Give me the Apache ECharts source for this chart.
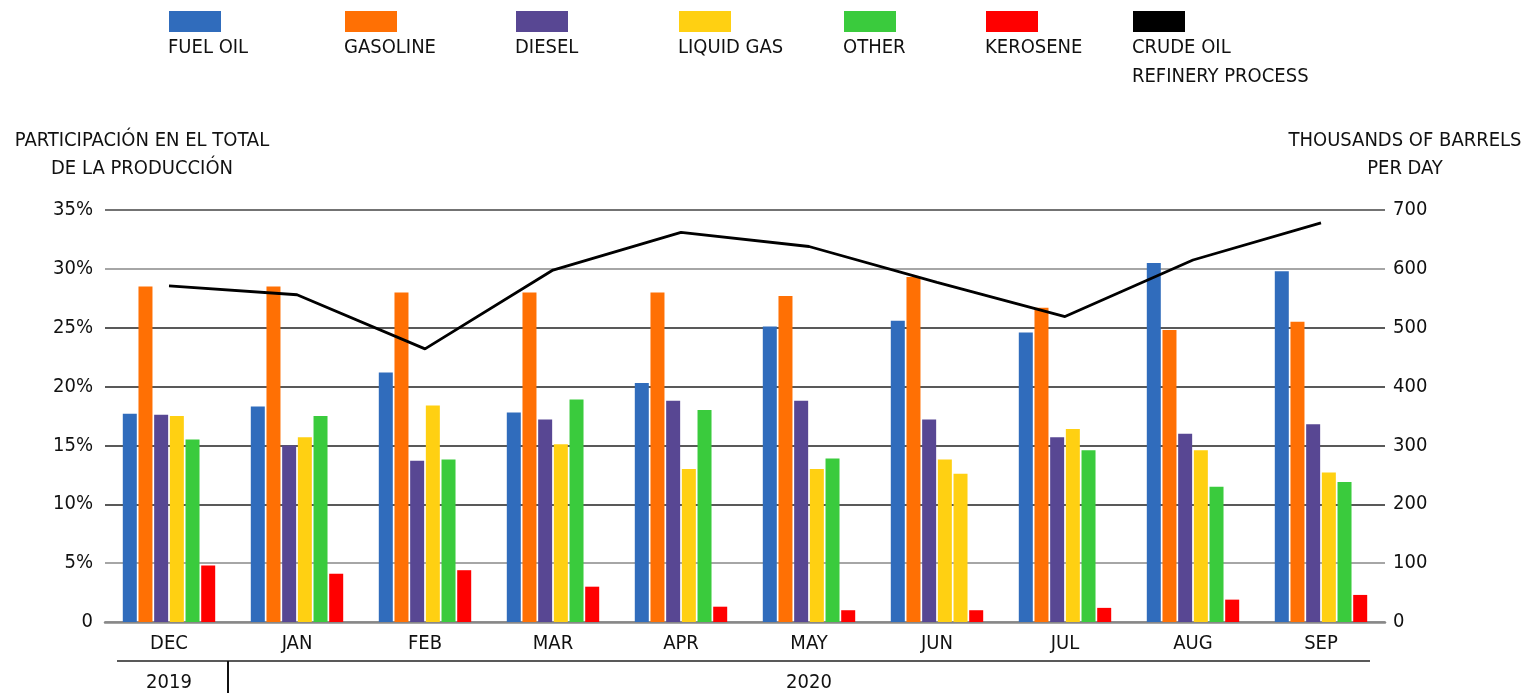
<!DOCTYPE html>
<html>
<head>
<meta charset="utf-8">
<script src="https://cdn.jsdelivr.net/npm/echarts@6/dist/echarts.min.js"></script>
<style>
html,body{margin:0;padding:0;background:#fff;}
#chart{width:1528px;height:693px;}
</style>
</head>
<body>
<div id="chart"></div>
<script>
const months = ['DEC','JAN','FEB','MAR','APR','MAY','JUN','JUL','AUG','SEP'];
const yearLabels = ['2019','','','','','2020','','','',''];
const fuelOil   = [17.7, 18.3, 21.2, 17.8, 20.3, 25.1, 25.6, 24.6, 30.5, 29.8];
const gasoline  = [28.5, 28.5, 28.0, 28.0, 28.0, 27.7, 29.3, 26.7, 24.8, 25.5];
const diesel    = [17.6, 15.0, 13.7, 17.2, 18.8, 18.8, 17.2, 15.7, 16.0, 16.8];
const liquidGas = [17.5, 15.7, 18.4, 15.1, 13.0, 13.0, 13.8, 16.4, 14.6, 12.7];
const other     = [15.5, 17.5, 13.8, 18.9, 18.0, 13.9, 12.6, 14.6, 11.5, 11.9];
const kerosene  = [4.8, 4.1, 4.4, 3.0, 1.3, 1.0, 1.0, 1.2, 1.9, 2.3];
const crudeOil  = [571, 556, 464, 598, 662, 638, 577, 519, 615, 678];
const leftTicks = ['0','5%','10%','15%','20%','25%','30%','35%'];
const rightTicks = ['0','100','200','300','400','500','600','700'];

const barSeries = [
  {name:'FUEL OIL', data:fuelOil, color:'#306CBC'},
  {name:'GASOLINE', data:gasoline, color:'#FF7004'},
  {name:'DIESEL', data:diesel, color:'#584793'},
  {name:'LIQUID GAS', data:liquidGas, color:'#FFD012'},
  {name:'OTHER', data:other, color:'#3ACB3D'},
  {name:'KEROSENE', data:kerosene, color:'#FF0000'}
];
const lineSeries = {name:'CRUDE OIL\nREFINERY PROCESS', data:crudeOil, color:'#000000'};

const FONT = '"DejaVu Sans Condensed","Open Sans",sans-serif';
const FS = 20;
const TXT = '#111';

const chart = echarts.init(document.getElementById('chart'), null, {renderer:'canvas'});

const series = barSeries.map(s => ({
  name: s.name,
  type: 'bar',
  xAxisIndex: 0,
  yAxisIndex: 0,
  barWidth: 14,
  barGap: '12%',
  itemStyle: {color: s.color},
  data: s.data.map((v, i) => (s.name === 'OTHER' && months[i] === 'JUN') ? {value: v, itemStyle: {color: '#FFD012'}} : v),
  emphasis: {disabled: true}
}));
series.push({
  name: lineSeries.name,
  type: 'line',
  xAxisIndex: 0,
  yAxisIndex: 1,
  data: lineSeries.data,
  symbol: 'none',
  lineStyle: {color: lineSeries.color, width: 2.8},
  itemStyle: {color: lineSeries.color},
  z: 5
});

// legend drawn as graphic (icon above text)
const legendX = [169, 345, 516, 679, 844, 986, 1133];
const legendItems = barSeries.map(s => ({name: s.name, color: s.color})).concat([{name: lineSeries.name, color: lineSeries.color}]);
const graphics = [];
legendItems.forEach((it, i) => {
  graphics.push({type:'rect', left: legendX[i], top: 11, shape:{width:52, height:21}, style:{fill: it.color}, silent:true});
  graphics.push({type:'text', x: legendX[i] - 1, y: 33, style:{text: it.name, font: FS + 'px ' + FONT, fill: TXT, lineHeight: 29}, silent:true});
});
graphics.push({type:'text', x: 142, y: 127, style:{text:'PARTICIPACIÓN EN EL TOTAL\nDE LA PRODUCCIÓN', font: FS + 'px ' + FONT, fill: TXT, align:'center', lineHeight: 28}, silent:true});
graphics.push({type:'text', x: 1405, y: 127, style:{text:'THOUSANDS OF BARRELS\nPER DAY', font: FS + 'px ' + FONT, fill: TXT, align:'center', lineHeight: 28}, silent:true});

const option = {
  animation: false,
  backgroundColor: '#fff',
  grid: {left: 105, width: 1280, top: 210, bottom: 71, containLabel: false},
  graphic: graphics,
  xAxis: [
    {
      type: 'category',
      data: months,
      position: 'bottom',
      axisLine: {lineStyle: {color: '#888', width: 2.5}},
      axisTick: {show: false},
      axisLabel: {color: TXT, fontSize: FS, fontFamily: FONT, margin: 12}
    },
    {
      type: 'category',
      data: yearLabels,
      position: 'bottom',
      offset: 39,
      axisLine: {show: false},
      axisTick: {show: false},
      axisLabel: {color: TXT, fontSize: FS, fontFamily: FONT, margin: 12, interval: 0}
    }
  ],
  yAxis: [
    {
      type: 'value',
      min: 0, max: 35, interval: 5,
      axisLine: {show: false},
      axisTick: {show: false},
      axisLabel: {color: TXT, fontSize: FS, fontFamily: FONT, margin: 12, formatter: (v) => leftTicks[Math.round(v / 5)]},
      splitLine: {show: true, lineStyle: {color: ['#888', '#888', '#222', '#222', '#222', '#222', '#888', '#444'], width: 1.5}}
    },
    {
      type: 'value',
      min: 0, max: 700, interval: 100,
      position: 'right',
      axisLine: {show: false},
      axisTick: {show: false},
      axisLabel: {color: TXT, fontSize: FS, fontFamily: FONT, margin: 8, formatter: (v) => rightTicks[Math.round(v / 100)]},
      splitLine: {show: false}
    }
  ],
  series: series
};
chart.setOption(option);

// year band lines positioned from the category scale
const xDec = chart.convertToPixel({xAxisIndex: 0}, 'DEC');
const xJan = chart.convertToPixel({xAxisIndex: 0}, 'JAN');
const xSep = chart.convertToPixel({xAxisIndex: 0}, 'SEP');
const y0 = chart.convertToPixel({yAxisIndex: 0}, 0);
const band = xJan - xDec;
const lineY = y0 + 39;
const sepX = (xDec + xJan) / 2 - 5;
graphics.push({type:'line', shape:{x1: xDec - band / 2 + 12, y1: lineY, x2: xSep + band / 2 - 15, y2: lineY}, style:{stroke:'#222', lineWidth: 1.5}, silent:true});
graphics.push({type:'line', shape:{x1: sepX, y1: lineY, x2: sepX, y2: 693}, style:{stroke:'#111', lineWidth: 2}, silent:true});
chart.setOption({graphic: graphics});
</script>
</body>
</html>
